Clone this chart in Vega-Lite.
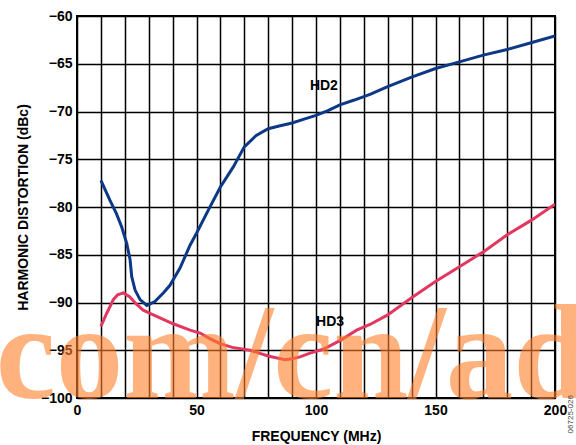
{
  "$schema": "https://vega.github.io/schema/vega-lite/v6.json",
  "width": 478,
  "height": 382,
  "autosize": {"type": "none"},
  "padding": {"left": 77, "top": 16, "right": 21, "bottom": 47},
  "background": "white",
  "config": {
    "font": "Liberation Sans",
    "view": {"stroke": "black", "strokeWidth": 2}
  },
  "datasets": {
    "curves": [
      {"series": "HD2", "freq": 10, "dbc": -77.2},
      {"series": "HD2", "freq": 13.8, "dbc": -79.3},
      {"series": "HD2", "freq": 16.5, "dbc": -80.7},
      {"series": "HD2", "freq": 18.7, "dbc": -82.1},
      {"series": "HD2", "freq": 20.8, "dbc": -83.8},
      {"series": "HD2", "freq": 22.2, "dbc": -85.5},
      {"series": "HD2", "freq": 22.9, "dbc": -87.3},
      {"series": "HD2", "freq": 24.3, "dbc": -88.7},
      {"series": "HD2", "freq": 26.4, "dbc": -89.7},
      {"series": "HD2", "freq": 29.2, "dbc": -90.3},
      {"series": "HD2", "freq": 32.6, "dbc": -89.9},
      {"series": "HD2", "freq": 36.1, "dbc": -89.0},
      {"series": "HD2", "freq": 38.9, "dbc": -88.2},
      {"series": "HD2", "freq": 43.1, "dbc": -86.4},
      {"series": "HD2", "freq": 47.3, "dbc": -84.0},
      {"series": "HD2", "freq": 50, "dbc": -82.75},
      {"series": "HD2", "freq": 55, "dbc": -80.3},
      {"series": "HD2", "freq": 60, "dbc": -77.9},
      {"series": "HD2", "freq": 65.4, "dbc": -75.8},
      {"series": "HD2", "freq": 70, "dbc": -73.7},
      {"series": "HD2", "freq": 75, "dbc": -72.5},
      {"series": "HD2", "freq": 80, "dbc": -71.8},
      {"series": "HD2", "freq": 85, "dbc": -71.5},
      {"series": "HD2", "freq": 90, "dbc": -71.2},
      {"series": "HD2", "freq": 95, "dbc": -70.8},
      {"series": "HD2", "freq": 100, "dbc": -70.4},
      {"series": "HD2", "freq": 105, "dbc": -69.9},
      {"series": "HD2", "freq": 110, "dbc": -69.3},
      {"series": "HD2", "freq": 116, "dbc": -68.8},
      {"series": "HD2", "freq": 122.6, "dbc": -68.2},
      {"series": "HD2", "freq": 130, "dbc": -67.4},
      {"series": "HD2", "freq": 140, "dbc": -66.4},
      {"series": "HD2", "freq": 150, "dbc": -65.5},
      {"series": "HD2", "freq": 160, "dbc": -64.8},
      {"series": "HD2", "freq": 170, "dbc": -64.1},
      {"series": "HD2", "freq": 180, "dbc": -63.5},
      {"series": "HD2", "freq": 190, "dbc": -62.8},
      {"series": "HD2", "freq": 200, "dbc": -62.1},
      {"series": "HD3", "freq": 10, "dbc": -92.5},
      {"series": "HD3", "freq": 12.5, "dbc": -91.1},
      {"series": "HD3", "freq": 15.2, "dbc": -89.7},
      {"series": "HD3", "freq": 17, "dbc": -89.2},
      {"series": "HD3", "freq": 19.4, "dbc": -89.0},
      {"series": "HD3", "freq": 22, "dbc": -89.4},
      {"series": "HD3", "freq": 25, "dbc": -90.2},
      {"series": "HD3", "freq": 27.7, "dbc": -90.8},
      {"series": "HD3", "freq": 31, "dbc": -91.2},
      {"series": "HD3", "freq": 34.7, "dbc": -91.6},
      {"series": "HD3", "freq": 40, "dbc": -92.2},
      {"series": "HD3", "freq": 47.3, "dbc": -92.9},
      {"series": "HD3", "freq": 51.5, "dbc": -93.2},
      {"series": "HD3", "freq": 55, "dbc": -93.7},
      {"series": "HD3", "freq": 59.8, "dbc": -94.3},
      {"series": "HD3", "freq": 65, "dbc": -94.7},
      {"series": "HD3", "freq": 72.4, "dbc": -95.0},
      {"series": "HD3", "freq": 80, "dbc": -95.6},
      {"series": "HD3", "freq": 87, "dbc": -96.0},
      {"series": "HD3", "freq": 90, "dbc": -95.9},
      {"series": "HD3", "freq": 93.3, "dbc": -95.7},
      {"series": "HD3", "freq": 97.5, "dbc": -95.3},
      {"series": "HD3", "freq": 103, "dbc": -94.9},
      {"series": "HD3", "freq": 110, "dbc": -94.0},
      {"series": "HD3", "freq": 117, "dbc": -92.9},
      {"series": "HD3", "freq": 122.6, "dbc": -92.3},
      {"series": "HD3", "freq": 130, "dbc": -91.3},
      {"series": "HD3", "freq": 140, "dbc": -89.5},
      {"series": "HD3", "freq": 150, "dbc": -87.8},
      {"series": "HD3", "freq": 160, "dbc": -86.25},
      {"series": "HD3", "freq": 170, "dbc": -84.7},
      {"series": "HD3", "freq": 180, "dbc": -82.9},
      {"series": "HD3", "freq": 190, "dbc": -81.4},
      {"series": "HD3", "freq": 200, "dbc": -79.7}
    ],
    "labels": [
      {"text": "HD2", "freq": 103.3, "dbc": -67.3},
      {"text": "HD3", "freq": 105.9, "dbc": -92.0}
    ],
    "watermark": [
      {"text": "com/cn/ad", "freq": 90, "dbc": -100}
    ],
    "code": [
      {"text": "06725-026", "freq": 206.5, "dbc": -99.7}
    ]
  },
  "encoding": {
    "x": {
      "field": "freq", "type": "quantitative",
      "scale": {"domain": [0, 200], "nice": false, "zero": false},
      "axis": {
        "title": "FREQUENCY (MHz)",
        "values": [0, 10, 20, 30, 40, 50, 60, 70, 80, 90, 100, 110, 120, 130, 140, 150, 160, 170, 180, 190, 200],
        "labelExpr": "datum.value % 50 == 0 ? datum.label : ''",
        "labelOverlap": false,
        "labelBound": false,
        "labelFlush": false,
        "labelFont": "Liberation Sans",
        "labelFontWeight": "bold",
        "labelFontSize": 14,
        "labelColor": "black",
        "titleFont": "Liberation Sans",
        "titleFontWeight": "bold",
        "titleFontSize": 14,
        "titleColor": "black",
        "ticks": false,
        "domain": false,
        "grid": true,
        "gridColor": "black",
        "gridWidth": 1.5,
        "gridOpacity": 1,
        "labelPadding": 5,
        "titlePadding": 12
      }
    },
    "y": {
      "field": "dbc", "type": "quantitative",
      "scale": {"domain": [-100, -60], "nice": false, "zero": false},
      "axis": {
        "title": "HARMONIC DISTORTION (dBc)",
        "values": [-100, -95, -90, -85, -80, -75, -70, -65, -60],
        "labelExpr": "replace(format(datum.value, 'd'), '-', '–')",
        "labelOverlap": false,
        "labelBound": false,
        "labelFlush": false,
        "labelFont": "Liberation Sans",
        "labelFontWeight": "bold",
        "labelFontSize": 14,
        "labelColor": "black",
        "titleFont": "Liberation Sans",
        "titleFontWeight": "bold",
        "titleFontSize": 14,
        "titleColor": "black",
        "ticks": false,
        "domain": false,
        "grid": true,
        "gridColor": "black",
        "gridWidth": 1.5,
        "gridOpacity": 1,
        "labelPadding": 5,
        "titlePadding": 10
      }
    }
  },
  "layer": [
    {
      "data": {"name": "curves"},
      "mark": {"type": "line", "strokeWidth": 3, "clip": true},
      "encoding": {
        "color": {
          "field": "series", "type": "nominal",
          "scale": {"domain": ["HD2", "HD3"], "range": ["#0c3886", "#e2375e"]},
          "legend": null
        },
        "detail": {"field": "series"}
      }
    },
    {
      "data": {"name": "labels"},
      "mark": {"type": "text", "font": "Liberation Sans", "fontWeight": "bold", "fontSize": 14, "color": "black", "align": "center", "baseline": "middle"},
      "encoding": {
        "text": {"field": "text"}
      }
    },
    {
      "data": {"name": "watermark"},
      "mark": {"type": "text", "font": "Liberation Serif", "fontWeight": "bold", "fontSize": 135, "color": "#FF7F2A", "opacity": 0.6, "align": "center", "baseline": "alphabetic"},
      "encoding": {
        "text": {"field": "text"}
      }
    },
    {
      "data": {"name": "code"},
      "mark": {"type": "text", "font": "Liberation Sans", "fontSize": 8, "color": "#444444", "angle": 270, "align": "right", "baseline": "middle"},
      "encoding": {
        "text": {"field": "text"}
      }
    }
  ]
}
